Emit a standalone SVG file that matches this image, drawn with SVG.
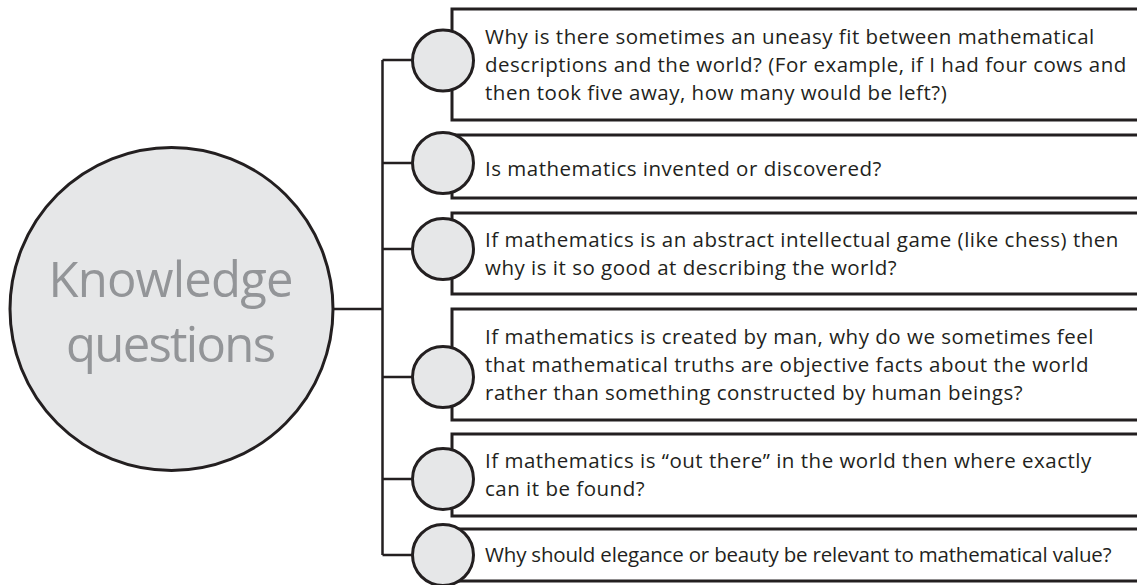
<svg xmlns="http://www.w3.org/2000/svg" width="1137" height="585" viewBox="0 0 1137 585">
<style>
.box{fill:#fff;stroke:#231f20;stroke-width:3}
.dot{fill:#e6e7e8;stroke:#231f20;stroke-width:3}
.con{fill:none;stroke:#231f20;stroke-width:2.5}
.q{font-family:"Open Sans","Noto Sans",sans-serif;font-size:20.5px;letter-spacing:0.5px;fill:#231f20}
.big{font-family:"Open Sans","Noto Sans",sans-serif;font-size:49px;fill:#939598;text-anchor:middle}
</style>
<rect width="1137" height="585" fill="#fff"/>
<g id="connectors">
<path class="con" d="M333 309H382.5M382.5 60V555M382.5 60H413M382.5 163H413M382.5 249H413M382.5 377H413M382.5 479H413M382.5 555H413"/>
</g>
<g id="root">
<circle class="dot" cx="171.5" cy="309" r="161.5"/>
<text class="big" x="171" y="297" textLength="245">Knowledge</text>
<text class="big" x="171" y="362" textLength="210">questions</text>
</g>
<g id="q1">
<path class="box" d="M1140 9H452V120H1140"/>
<circle class="dot" cx="443" cy="60.5" r="30.5"/>
<text class="q" x="485" y="44">Why is there sometimes an uneasy fit between mathematical</text>
<text class="q" x="485" y="72">descriptions and the world? (For example, if I had four cows and</text>
<text class="q" x="485" y="100">then took five away, how many would be left?)</text>
</g>
<g id="q2">
<path class="box" d="M1140 135H452V198H1140"/>
<circle class="dot" cx="443" cy="163" r="30.5"/>
<text class="q" x="485" y="176">Is mathematics invented or discovered?</text>
</g>
<g id="q3">
<path class="box" d="M1140 213H452V294H1140"/>
<circle class="dot" cx="443" cy="249" r="30.5"/>
<text class="q" x="485" y="247">If mathematics is an abstract intellectual game (like chess) then</text>
<text class="q" x="485" y="275">why is it so good at describing the world?</text>
</g>
<g id="q4">
<path class="box" d="M1140 309H452V420H1140"/>
<circle class="dot" cx="443" cy="377" r="30.5"/>
<text class="q" x="485" y="344">If mathematics is created by man, why do we sometimes feel</text>
<text class="q" x="485" y="372">that mathematical truths are objective facts about the world</text>
<text class="q" x="485" y="400">rather than something constructed by human beings?</text>
</g>
<g id="q5">
<path class="box" d="M1140 434H452V516H1140"/>
<circle class="dot" cx="443" cy="479" r="30.5"/>
<text class="q" x="485" y="468">If mathematics is “out there” in the world then where exactly</text>
<text class="q" x="485" y="496">can it be found?</text>
</g>
<g id="q6">
<path class="box" d="M1140 529H452V581H1140"/>
<circle class="dot" cx="443" cy="555" r="30.5"/>
<text class="q" x="485" y="562" textLength="627">Why should elegance or beauty be relevant to mathematical value?</text>
</g>
</svg>
